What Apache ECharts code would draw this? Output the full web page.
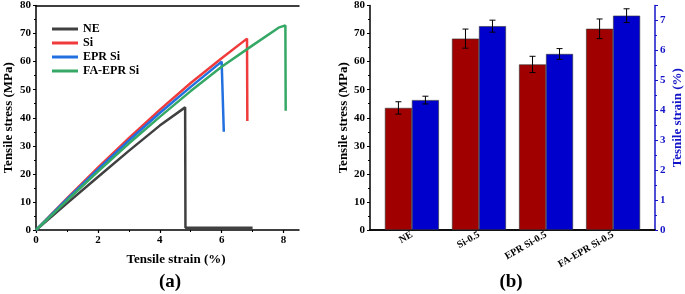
<!DOCTYPE html>
<html>
<head>
<meta charset="utf-8">
<script src="https://cdn.jsdelivr.net/npm/echarts@6/dist/echarts.min.js"></script>
<style>
  html, body { margin: 0; padding: 0; background: #fff; }
  #chart { width: 685px; height: 294px; }
</style>
</head>
<body>
<div id="chart"></div>
<script>
// (a) stress-strain curves
const neStrain = [0, 1, 2, 3, 4, 4.82, 4.83, 7.0];
const neStress = [0, 9.5, 18.9, 28.2, 37.2, 43.7, 0.8, 0.8];
const siStrain = [0, 1, 2, 3, 4, 5, 6, 6.82, 6.83];
const siStress = [0, 11.3, 22.2, 32.7, 42.8, 52.4, 61.2, 68.2, 38.8];
const eprStrain = [0, 1, 2, 3, 4, 5, 6, 6.06, 6.07];
const eprStress = [0, 11.0, 21.6, 31.9, 41.7, 51.0, 60.0, 60.6, 35.0];
const faStrain = [0, 1, 2, 3, 4, 5, 6, 7, 7.84, 8.06, 8.07];
const faStress = [0, 10.5, 20.8, 30.8, 40.3, 49.5, 58.2, 65.8, 72.1, 72.9, 42.5];

// (b) bar chart
const categories = ["NE", "Si-0.5", "EPR Si-0.5", "FA-EPR Si-0.5"];
const stressMean = [43.5, 68.2, 59.0, 71.7];
const stressErr = [2.2, 3.4, 2.9, 3.5];
const strainMean = [4.34, 6.81, 5.88, 7.16];
const strainErr = [0.13, 0.2, 0.18, 0.23];

const font = "Liberation Serif";
const barW = 27;

const pairs = (xs, ys) => xs.map((x, i) => [x, ys[i]]);

const chart = echarts.init(document.getElementById("chart"));

const lineSeries = (name, xs, ys, color) => ({
    name: name,
    type: "line",
    xAxisIndex: 0,
    yAxisIndex: 0,
    data: pairs(xs, ys),
    symbol: "none",
    color: color,
    lineStyle: { width: 2.5, color: color },
});

const errorSeries = (means, errs, yIdx, offset) => ({
    type: "custom",
    xAxisIndex: 1,
    yAxisIndex: yIdx,
    z: 5,
    data: means.map((m, i) => [i + 1, m - errs[i], m + errs[i]]),
    renderItem: (params, api) => {
        const x = api.value(0);
        const top = api.coord([x, api.value(2)]);
        const bot = api.coord([x, api.value(1)]);
        const cx = top[0] + offset;
        const st = { stroke: "#000", lineWidth: 1 };
        return {
            type: "group",
            children: [
                { type: "line", shape: { x1: cx, y1: top[1], x2: cx, y2: bot[1] }, style: st },
                { type: "line", shape: { x1: cx - 3, y1: top[1], x2: cx + 3, y2: top[1] }, style: st },
                { type: "line", shape: { x1: cx - 3, y1: bot[1], x2: cx + 3, y2: bot[1] }, style: st },
            ],
        };
    },
});

const tickLabel = { fontFamily: font, fontWeight: "bold", fontSize: 11, color: "#000" };
const axisName = { fontFamily: font, fontWeight: "bold", fontSize: 13, color: "#000" };
const blackLine = { lineStyle: { color: "#000", width: 1.5 } };

const frameAxis = (grid) => ({
    gridIndex: grid,
    type: "value",
    position: "top",
    min: 0,
    max: 1,
    axisLine: blackLine,
    axisTick: { show: false },
    axisLabel: { show: false },
    splitLine: { show: false },
});

const options = {
    animation: false,
    grid: [
        { left: 36, top: 5, width: 263, height: 225 },
        { left: 370, top: 5, width: 286, height: 225 },
    ],
    legend: {
        data: ["NE", "Si", "EPR Si", "FA-EPR Si"],
        orient: "vertical",
        left: 47,
        top: 18,
        icon: "rect",
        itemWidth: 26,
        itemHeight: 3,
        itemGap: 2,
        textStyle: { fontFamily: font, fontWeight: "bold", fontSize: 12, color: "#000", lineHeight: 12 },
    },
    xAxis: [
        {
            gridIndex: 0,
            type: "value",
            min: 0,
            max: 8.5,
            interval: 2,
            axisLine: blackLine,
            axisTick: { length: 3, lineStyle: { width: 1.2 }, customValues: [0, 2, 4, 6, 8] },
            minorTick: { show: true, splitNumber: 2, length: 2 },
            axisLabel: Object.assign({ showMaxLabel: false, margin: 5 }, tickLabel),
            splitLine: { show: false },
            name: "Tensile strain (%)",
            nameLocation: "middle",
            nameGap: 23,
            nameTextStyle: Object.assign({ padding: [0, 0, 0, 17] }, axisName),
        },
        {
            gridIndex: 1,
            type: "value",
            min: 0.375,
            max: 4.625,
            axisLine: blackLine,
            axisTick: { show: false },
            axisLabel: {
                customValues: [1, 2, 3, 4],
                formatter: (v) => categories[Math.round(v) - 1],
                rotate: 30,
                margin: 4,
                fontFamily: font,
                fontWeight: "bold",
                fontSize: 10,
                color: "#000",
            },
            splitLine: { show: false },
        },
        frameAxis(0),
        frameAxis(1),
    ],
    yAxis: [
        {
            gridIndex: 0,
            type: "value",
            min: 0,
            max: 80,
            interval: 10,
            axisLine: { show: true, lineStyle: { color: "#000", width: 1.5 } },
            axisTick: { show: true, length: 3 },
            minorTick: { show: true, splitNumber: 2, length: 2 },
            axisLabel: Object.assign({ margin: 5 }, tickLabel),
            splitLine: { show: false },
            name: "Tensile stress (MPa)",
            nameLocation: "middle",
            nameGap: 21,
            nameTextStyle: axisName,
        },
        {
            gridIndex: 1,
            type: "value",
            min: 0,
            max: 80,
            interval: 10,
            axisLine: { show: true, lineStyle: { color: "#000", width: 1.5 } },
            axisTick: { show: true, length: 3 },
            minorTick: { show: true, splitNumber: 2, length: 2 },
            axisLabel: Object.assign({ margin: 5 }, tickLabel),
            splitLine: { show: false },
            name: "Tensile stress (MPa)",
            nameLocation: "middle",
            nameGap: 19,
            nameTextStyle: axisName,
        },
        {
            gridIndex: 1,
            type: "value",
            position: "right",
            min: 0,
            max: 7.5,
            interval: 1,
            axisLine: { show: true, lineStyle: { color: "#1414c8", width: 1.5 } },
            axisTick: { show: true, length: 3 },
            minorTick: { show: true, splitNumber: 2, length: 2 },
            axisLabel: Object.assign({}, tickLabel, { color: "#1414c8", margin: 5, showMaxLabel: false }),
            splitLine: { show: false },
            name: "Tesnile strain (%)",
            nameLocation: "middle",
            nameRotate: 90,
            nameGap: 16,
            nameTextStyle: Object.assign({}, axisName, { color: "#1414c8" }),
        },
    ],
    graphic: [
        { type: "text", x: 170, y: 282, style: { text: "(a)", font: "bold 19px " + font, fill: "#000", align: "center", verticalAlign: "middle" } },
        { type: "text", x: 511, y: 282, style: { text: "(b)", font: "bold 19px " + font, fill: "#000", align: "center", verticalAlign: "middle" } },
    ],
    series: [
        lineSeries("NE", neStrain, neStress, "#404040"),
        lineSeries("Si", siStrain, siStress, "#ef3b3b"),
        lineSeries("EPR Si", eprStrain, eprStress, "#2270e0"),
        lineSeries("FA-EPR Si", faStrain, faStress, "#35a865"),
        {
            type: "bar",
            xAxisIndex: 1,
            yAxisIndex: 1,
            data: stressMean.map((v, i) => [i + 1, v]),
            barWidth: barW,
            barGap: "0%",
            itemStyle: { color: "#a00000", borderColor: "#333", borderWidth: 0.6 },
        },
        {
            type: "bar",
            xAxisIndex: 1,
            yAxisIndex: 2,
            data: strainMean.map((v, i) => [i + 1, v]),
            barWidth: barW,
            barGap: "0%",
            itemStyle: { color: "#0000cc", borderColor: "#333", borderWidth: 0.6 },
        },
        errorSeries(stressMean, stressErr, 1, -barW / 2),
        errorSeries(strainMean, strainErr, 2, barW / 2),
    ],
};

chart.setOption(options);
</script>
</body>
</html>
